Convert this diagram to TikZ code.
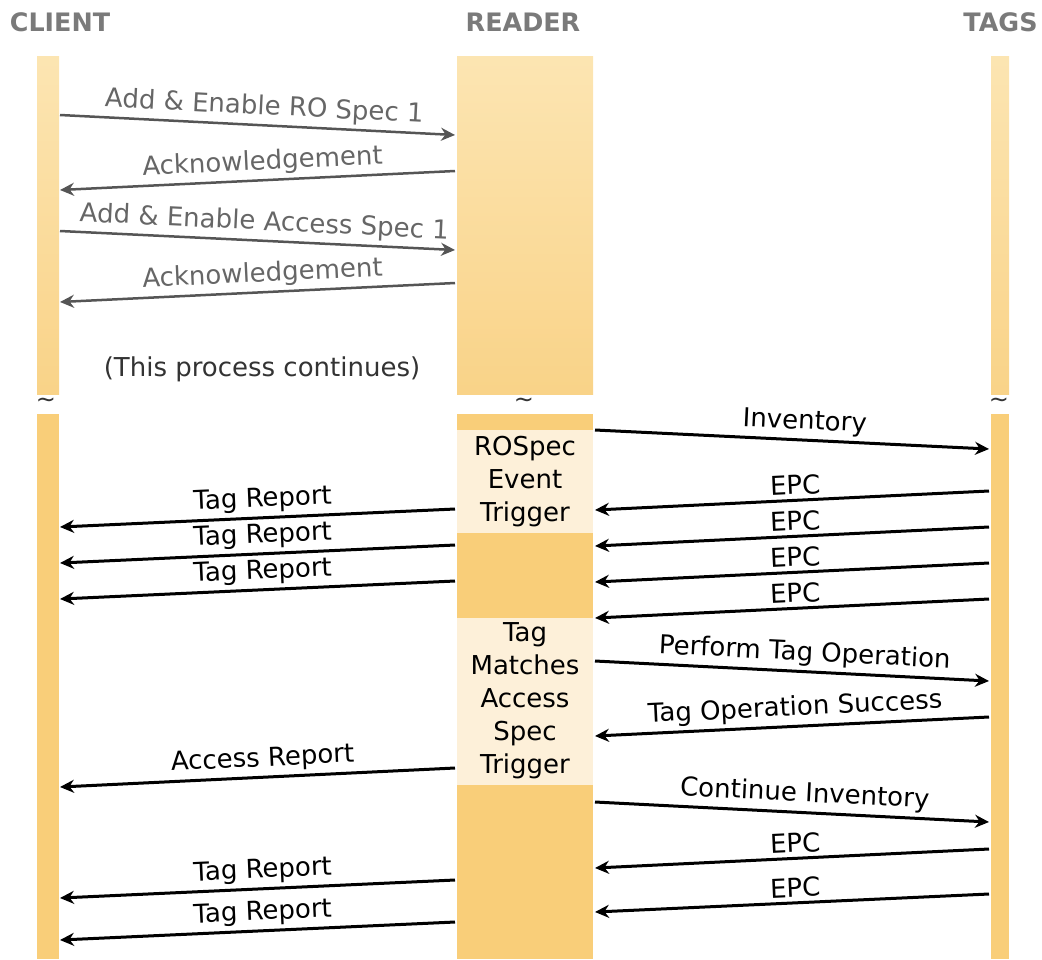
\documentclass[tikz,border=0pt]{standalone}
\usepackage{fontspec}
\setmainfont{DejaVu Sans}
\usetikzlibrary{arrows.meta}
\definecolor{hdr}{HTML}{7A7A7A}
\definecolor{bartop}{HTML}{FCE5B2}
\definecolor{barbot}{HTML}{F9D388}
\definecolor{barlow}{HTML}{F9CE79}
\definecolor{trig}{HTML}{FDF0D9}
\definecolor{graymsg}{HTML}{555555}
\definecolor{graytxt}{HTML}{666666}
\definecolor{darktxt}{HTML}{333333}
\begin{document}
\begin{tikzpicture}[x=0.5pt,y=-0.5pt,
  font=\fontsize{13}{16.5}\selectfont,
  header/.style={font=\fontsize{12.7}{15}\selectfont\bfseries, text=hdr, inner sep=0pt},
  msg/.style={-{Stealth[length=7pt,width=6.5pt]}, line width=1.5pt, draw=black},
  msggray/.style={msg, draw=graymsg, line width=1.25pt},
  lbl/.style={above, sloped, inner sep=2pt},
  lblr/.style={lbl, pos=0.515},
  lbll/.style={lbl, pos=0.485},
  lblgray/.style={text=graytxt},
  trigtext/.style={align=center, inner sep=0pt, font=\fontsize{13}{16.5}\selectfont},
  tilde/.style={font=\fontsize{12}{12}\selectfont, text=darktxt, inner sep=0pt}]
\useasboundingbox (0,0) rectangle (1042,959);

% headers
\node[header] (hclient) at (60,22) {CLIENT};
\node[header] (hreader) at (523,22) {READER};
\node[header, anchor=east] (htags) at (1038,22) {TAGS};

% lifeline bars, upper part (gradient)
\shade[top color=bartop, bottom color=barbot] (37,56) rectangle (59,394);
\shade[top color=bartop, bottom color=barbot] (457,56) rectangle (593,394);
\shade[top color=bartop, bottom color=barbot] (991,56) rectangle (1009,394);

% lifeline bars, lower part
\fill[barlow] (37,414) rectangle (59,959);
\fill[barlow] (457,414) rectangle (593,959);
\fill[barlow] (991,414) rectangle (1009,959);

% trigger boxes
\fill[trig] (457,430) rectangle (593,533);
\fill[trig] (457,618) rectangle (593,785);
\node[trigtext] (rospec) at (525,482) {ROSpec\\Event\\Trigger};
\node[trigtext] (tagmatch) at (525,701) {Tag\\Matches\\Access\\Spec\\Trigger};

% breaks
\node[tilde] (t1) at (46,403) {\textasciitilde};
\node[tilde] (t2) at (524,403) {\textasciitilde};
\node[tilde] (t3) at (999,403) {\textasciitilde};

\node[text=darktxt] (cont) at (262,369) {(This process continues)};

% upper messages
\coordinate (a1s) at (60,115);  \coordinate (a1e) at (455,135);
\coordinate (a2s) at (455,171); \coordinate (a2e) at (60,190);
\coordinate (a3s) at (60,231);  \coordinate (a3e) at (455,250);
\coordinate (a4s) at (455,283); \coordinate (a4e) at (60,302);
\draw[msggray] (a1s) -- node[lblr, lblgray]{Add \& Enable RO Spec 1} (a1e);
\draw[msggray] (a2s) -- node[lbll, lblgray]{Acknowledgement} (a2e);
\draw[msggray] (a3s) -- node[lblr, lblgray]{Add \& Enable Access Spec 1} (a3e);
\draw[msggray] (a4s) -- node[lbll, lblgray]{Acknowledgement} (a4e);

% lower messages
\coordinate (invs) at (595,430);  \coordinate (inve) at (989,449);
\coordinate (e1s) at (989,491);   \coordinate (e1e) at (595,510);
\coordinate (e2s) at (989,527);   \coordinate (e2e) at (595,546);
\coordinate (e3s) at (989,563);   \coordinate (e3e) at (595,582);
\coordinate (e4s) at (989,599);   \coordinate (e4e) at (595,618);
\coordinate (r1s) at (455,509);   \coordinate (r1e) at (60,527);
\coordinate (r2s) at (455,545);   \coordinate (r2e) at (60,563);
\coordinate (r3s) at (455,581);   \coordinate (r3e) at (60,599);
\coordinate (ptos) at (595,661);  \coordinate (ptoe) at (989,681);
\coordinate (toss) at (989,717);  \coordinate (tose) at (595,736);
\coordinate (ars) at (455,768);   \coordinate (are) at (60,787);
\coordinate (cis) at (595,802);   \coordinate (cie) at (989,822);
\coordinate (e5s) at (989,849);   \coordinate (e5e) at (595,868);
\coordinate (e6s) at (989,894);   \coordinate (e6e) at (595,912);
\coordinate (r4s) at (455,880);   \coordinate (r4e) at (60,898);
\coordinate (r5s) at (455,922);   \coordinate (r5e) at (60,940);

\draw[msg] (invs) -- node[lbl, pos=0.53]{Inventory} (inve);
\draw[msg] (e1s) -- node[lbl, pos=0.49]{EPC} (e1e);
\draw[msg] (e2s) -- node[lbl, pos=0.49]{EPC} (e2e);
\draw[msg] (e3s) -- node[lbl, pos=0.49]{EPC} (e3e);
\draw[msg] (e4s) -- node[lbl, pos=0.49]{EPC} (e4e);
\draw[msg] (r1s) -- node[lbll]{Tag Report} (r1e);
\draw[msg] (r2s) -- node[lbll]{Tag Report} (r2e);
\draw[msg] (r3s) -- node[lbll]{Tag Report} (r3e);
\draw[msg] (ptos) -- node[lbl, pos=0.53]{Perform Tag Operation} (ptoe);
\draw[msg] (toss) -- node[lbl, pos=0.49]{Tag Operation Success} (tose);
\draw[msg] (ars) -- node[lbll]{Access Report} (are);
\draw[msg] (cis) -- node[lbl, pos=0.53]{Continue Inventory} (cie);
\draw[msg] (e5s) -- node[lbl, pos=0.49]{EPC} (e5e);
\draw[msg] (e6s) -- node[lbl, pos=0.49]{EPC} (e6e);
\draw[msg] (r4s) -- node[lbll]{Tag Report} (r4e);
\draw[msg] (r5s) -- node[lbll]{Tag Report} (r5e);
\end{tikzpicture}
\end{document}
